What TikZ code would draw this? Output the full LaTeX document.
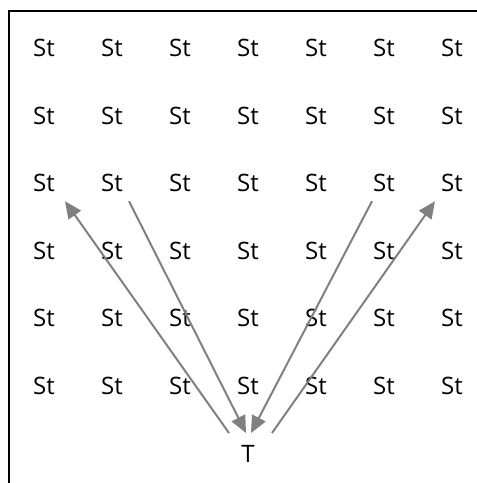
\documentclass[tikz,border=0pt]{standalone}
\usepackage{fontspec}
\setmainfont{Open Sans}
\usetikzlibrary{arrows.meta}
\definecolor{flowgray}{RGB}{128,128,128}
\tikzset{
  stnode/.style={inner sep=0pt, font=\fontsize{24}{28}\selectfont},
  flow/.style={->, draw=flowgray, line width=2pt},
}
\begin{document}
\begin{tikzpicture}[x=1pt, y=-1pt, >={Triangle[length=17pt,width=15pt]}]
        \useasboundingbox (0,0) rectangle (477,483);
        % Frame
        \draw[line width=2.5pt] (9,483) -- (9,11) -- (477,11);

        % Grid of states
        \foreach \r in {1,...,6}
          \foreach \c in {1,...,7}
            \node[stnode] (s-\r-\c) at ({44+68*(\c-1)},{48+67.6*(\r-1)}) {St};

        % Target
        \node[stnode] (t) at (248,454) {T};

        % Arrows to and from the target
        \draw[flow] ([xshift=-19pt,yshift=21pt]t.center) -- ([xshift=21pt,yshift=-18pt]s-3-1.center);
        \draw[flow] ([xshift=17pt,yshift=-18pt]s-3-2.center) -- ([xshift=-2pt,yshift=21pt]t.center);
        \draw[flow] ([xshift=-12pt,yshift=-18pt]s-3-6.center) -- ([xshift=3pt,yshift=21pt]t.center);
        \draw[flow] ([xshift=24pt,yshift=21pt]t.center) -- ([xshift=-17pt,yshift=-18pt]s-3-7.center);
    \end{tikzpicture}
\end{document}
